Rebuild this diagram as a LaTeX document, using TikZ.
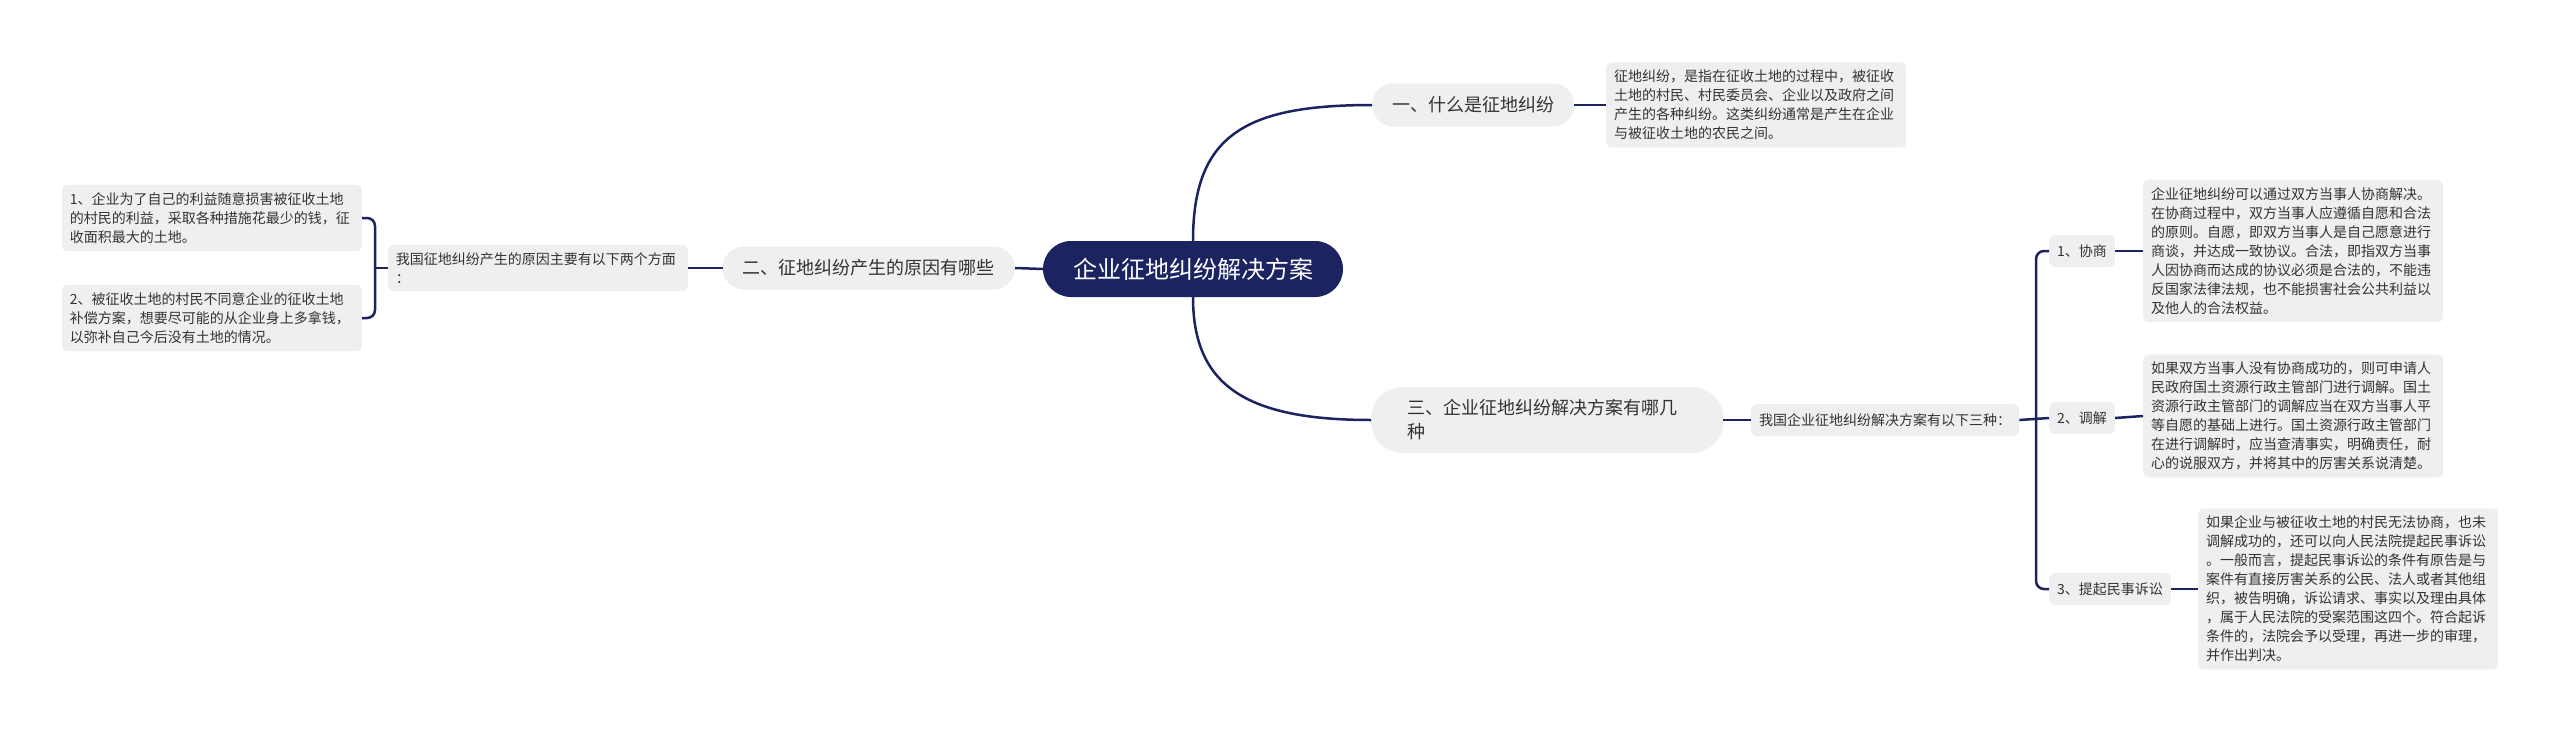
\documentclass[tikz,border=0pt]{standalone}
\usepackage{fontspec}
\setmainfont{Noto Sans CJK SC}
\XeTeXlinebreaklocale "zh"
\definecolor{navy}{RGB}{27,35,96}
\definecolor{bubble}{RGB}{239,239,239}
\definecolor{ink}{RGB}{51,51,51}
\begin{document}
\begin{tikzpicture}[x=1pt,y=-1pt,
        line/.style={draw=navy,line width=2.5pt},
        topic/.style={fill=bubble,text=ink,rounded corners=21pt,font=\fontsize{18}{24}\selectfont,minimum height=43pt,inner xsep=20pt},
        note/.style={fill=bubble,text=ink,rounded corners=5pt,font=\fontsize{14}{19}\selectfont,text width=284pt,align=left,inner xsep=8pt,inner ysep=7.5pt},
        tag/.style={fill=bubble,text=ink,rounded corners=6pt,font=\fontsize{14}{19}\selectfont,minimum height=32pt,inner xsep=8pt}]
        \useasboundingbox (0,0) rectangle (2560,731);
        \node[fill=navy,text=white,rounded corners=28pt,minimum width=300pt,minimum height=56pt,font=\fontsize{24}{28}\selectfont] (root) at (1193,269) {企业征地纠纷解决方案};
        % branch one
        \node[topic,anchor=west] (what) at (1372,105) {一、什么是征地纠纷};
        \node[note,anchor=west] (whatnote) at (1606,105) {征地纠纷，是指在征收土地的过程中，被征收\\土地的村民、村民委员会、企业以及政府之间\\产生的各种纠纷。这类纠纷通常是产生在企业\\与被征收土地的农民之间。};
        % branch two
        \node[topic,anchor=east] (cause) at (1015,268) {二、征地纠纷产生的原因有哪些};
        \node[note,anchor=east] (causenote) at (688,268) {我国征地纠纷产生的原因主要有以下两个方面\\：};
        \node[note,anchor=east] (causea) at (362,218) {1、企业为了自己的利益随意损害被征收土地\\的村民的利益，采取各种措施花最少的钱，征\\收面积最大的土地。};
        \node[note,anchor=east] (causeb) at (362,318) {2、被征收土地的村民不同意企业的征收土地\\补偿方案，想要尽可能的从企业身上多拿钱，\\以弥补自己今后没有土地的情况。};
        % branch three
        \node[topic,anchor=west,text width=280pt,align=left,inner xsep=36pt,minimum height=66pt,rounded corners=31pt] (way) at (1371,420) {三、企业征地纠纷解决方案有哪几\\种};
        \node[tag,anchor=west] (waynote) at (1751,420) {我国企业征地纠纷解决方案有以下三种：};
        \node[tag,anchor=west] (talk) at (2049,251) {1、协商};
        \node[tag,anchor=west] (mediate) at (2049,418) {2、调解};
        \node[tag,anchor=west] (sue) at (2049,589) {3、提起民事诉讼};
        \node[note,anchor=west] (talknote) at (2143,251) {企业征地纠纷可以通过双方当事人协商解决。\\在协商过程中，双方当事人应遵循自愿和合法\\的原则。自愿，即双方当事人是自己愿意进行\\商谈，并达成一致协议。合法，即指双方当事\\人因协商而达成的协议必须是合法的，不能违\\反国家法律法规，也不能损害社会公共利益以\\及他人的合法权益。};
        \node[note,anchor=west] (mediatenote) at (2143,416) {如果双方当事人没有协商成功的，则可申请人\\民政府国土资源行政主管部门进行调解。国土\\资源行政主管部门的调解应当在双方当事人平\\等自愿的基础上进行。国土资源行政主管部门\\在进行调解时，应当查清事实，明确责任，耐\\心的说服双方，并将其中的厉害关系说清楚。};
        \node[note,anchor=west] (suenote) at (2198,589) {如果企业与被征收土地的村民无法协商，也未\\调解成功的，还可以向人民法院提起民事诉讼\\。一般而言，提起民事诉讼的条件有原告是与\\案件有直接厉害关系的公民、法人或者其他组\\织，被告明确，诉讼请求、事实以及理由具体\\，属于人民法院的受案范围这四个。符合起诉\\条件的，法院会予以受理，再进一步的审理，\\并作出判决。};
        % connectors
        \draw[line] (root.north) .. controls (1193,135) and (1245,105) .. (what.west);
        \draw[line] (root.south) .. controls (1193,385) and (1245,420) .. (way.west);
        \draw[line] (root.west) -- (cause.east);
        \draw[line] (what.east) -- (whatnote.west);
        \draw[line] (cause.west) -- (causenote.east);
        \coordinate (leftfork) at (375,268);
        \draw[line,rounded corners=8pt] (causea.east) -| (leftfork) |- (causeb.east);
        \draw[line] (causenote.west) -- (leftfork);
        \draw[line] (way.east) -- (waynote.west);
        \coordinate (rightfork) at (2036,418);
        \draw[line,rounded corners=8pt] (talk.west) -| (rightfork) |- (sue.west);
        \draw[line] (waynote.east) -- (mediate.west);
        \draw[line] (talk.east) -- (talknote.west);
        \draw[line] (mediate.east) -- (mediatenote.west);
        \draw[line] (sue.east) -- (suenote.west);
    \end{tikzpicture}
\end{document}
